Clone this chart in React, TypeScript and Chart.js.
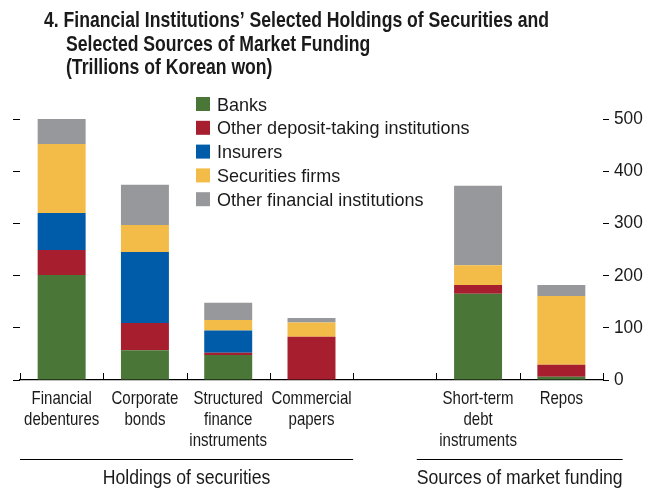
import React, { useEffect, useRef } from "react";
import { Chart, registerables } from "chart.js";

Chart.register(...registerables);

// ---- data ----
const categories: (string | string[])[] = [
  ["Financial", "debentures"],
  ["Corporate", "bonds"],
  ["Structured", "finance", "instruments"],
  ["Commercial", "papers"],
  "",
  ["Short-term", "debt", "instruments"],
  "Repos",
];
const seriesNames = [
  "Banks",
  "Other deposit-taking institutions",
  "Insurers",
  "Securities firms",
  "Other financial institutions",
];
const banks = [201, 57, 48, 0, null, 165, 6];
const otherDepositTaking = [48, 52, 4, 83, null, 17, 23];
const insurers = [71, 136, 43, 0, null, 0, 0];
const securitiesFirms = [132, 52, 20, 27, null, 38, 132];
const otherFinancial = [48, 77, 33, 9, null, 152, 21];
const yTicks = [0, 100, 200, 300, 400, 500];
const groupLabels = ["Holdings of securities", "Sources of market funding"];
const groupSpans = [
  [0, 3],
  [5, 6],
];
const titleLines = [
  "4. Financial Institutions\u2019 Selected Holdings of Securities and",
  "Selected Sources of Market Funding",
  "(Trillions of Korean won)",
];

const seriesValues = [banks, otherDepositTaking, insurers, securitiesFirms, otherFinancial];
const colors = ["#4a7637", "#a71e2f", "#005ca9", "#f3bb47", "#97989b"];

const FONT = "'Liberation Sans', Arial, sans-serif";
const TEXT = "#1a1a1a";

// horizontal condensing per font size (emulates a condensed face)
const SQUEEZE: Record<string, number> = {
  "17.7": 0.85, // category labels
  "18.2": 0.95, // value axis labels
  "18.6": 0.97, // legend
  "21": 0.84, // group labels
};

const squeezePlugin = {
  id: "squeeze",
  beforeDraw(chart: any) {
    const ctx = chart.ctx;
    if (ctx.__squeezed) return;
    const orig = ctx.fillText;
    ctx.fillText = function (text: string, x: number, y: number, maxWidth?: number) {
      const m = /([\d.]+)px/.exec(this.font);
      const f = m ? SQUEEZE[m[1]] : undefined;
      if (f) {
        const w = this.measureText(text).width * f;
        maxWidth = maxWidth !== undefined ? Math.min(maxWidth, w) : w;
      }
      return maxWidth !== undefined
        ? orig.call(this, text, x, y, maxWidth)
        : orig.call(this, text, x, y);
    };
    ctx.__squeezed = true;
  },
};

const overlayPlugin = {
  id: "overlay",
  afterDraw(chart: any) {
    const ctx = chart.ctx;
    const x = chart.scales.x;
    const area = chart.chartArea;
    ctx.save();
    // title
    ctx.font = `bold 22px ${FONT}`;
    ctx.fillStyle = TEXT;
    ctx.textAlign = "left";
    ctx.textBaseline = "alphabetic";
    const tScale = 505 / ctx.measureText(titleLines[0]).width;
    titleLines.forEach((t, i) => {
      const w = ctx.measureText(t).width * tScale;
      ctx.fillText(t, i === 0 ? 44 : 66, 27.3 + i * 23.4, w);
    });
    // category boundary ticks (upward)
    ctx.strokeStyle = "#000";
    ctx.lineWidth = 1;
    for (let i = 0; i <= categories.length; i++) {
      const px = Math.round(x.getPixelForValue(i - 0.5)) + 0.5;
      ctx.beginPath();
      ctx.moveTo(px, area.bottom);
      ctx.lineTo(px, area.bottom - 7);
      ctx.stroke();
    }
    // legend
    ctx.font = `18.6px ${FONT}`;
    ctx.textBaseline = "alphabetic";
    ctx.textAlign = "left";
    chart.data.datasets.forEach((ds: any, i: number) => {
      const y = 97 + i * 23.8;
      ctx.fillStyle = ds.backgroundColor;
      ctx.fillRect(196, y, 14, 14);
      ctx.fillStyle = TEXT;
      ctx.fillText(ds.label, 217, y + 13.6);
    });
    // group labels
    ctx.font = `21px ${FONT}`;
    ctx.textAlign = "center";
    ctx.textBaseline = "alphabetic";
    groupLabels.forEach((lab, gi) => {
      const [a, b] = groupSpans[gi];
      const left = x.getPixelForValue(a - 0.5);
      const right = x.getPixelForValue(b + 0.5);
      const cx = (left + right) / 2;
      const tw = ctx.measureText(lab).width * SQUEEZE["21"];
      const half = Math.max((right - left) / 2, tw / 2);
      ctx.strokeStyle = "#000";
      ctx.lineWidth = 1.2;
      ctx.beginPath();
      ctx.moveTo(cx - half, 459.5);
      ctx.lineTo(cx + half, 459.5);
      ctx.stroke();
      ctx.fillStyle = TEXT;
      ctx.fillText(lab, cx, 483.5);
    });
    ctx.restore();
  },
};

export default function App() {
  const ref = useRef<HTMLCanvasElement | null>(null);
  useEffect(() => {
    if (!ref.current) return;
    const chart = new Chart(ref.current, {
      type: "bar",
      data: {
        labels: categories as any,
        datasets: seriesNames.map((n, i) => ({
          label: n,
          data: seriesValues[i] as any,
          backgroundColor: colors[i],
          borderWidth: 0,
          barPercentage: 0.576,
          categoryPercentage: 1,
          yAxisID: "y",
        })),
      },
      options: {
        animation: false,
        responsive: false,
        maintainAspectRatio: false,
        layout: { padding: { top: 119, left: 0, right: 0, bottom: 0 } },
        plugins: {
          legend: { display: false },
          tooltip: { enabled: false },
          title: { display: false },
        },
        scales: {
          x: {
            stacked: true,
            grid: { display: true, drawOnChartArea: false, drawTicks: false, color: "transparent" },
            border: { display: true, color: "#000", width: 1.2 },
            ticks: {
              font: { family: FONT, size: 17.7, lineHeight: "20.8px" },
              color: TEXT,
              padding: 9,
              maxRotation: 0,
              autoSkip: false,
            },
            afterFit: (s: any) => {
              s.height = 109;
            },
          },
          y: {
            stacked: true,
            position: "left",
            min: 0,
            max: 500,
            afterBuildTicks: (s: any) => {
              s.ticks = yTicks.map((v) => ({ value: v }));
            },
            ticks: { display: false },
            grid: { drawOnChartArea: false, drawTicks: true, tickLength: 7, color: "#000" },
            border: { display: false },
            afterFit: (s: any) => {
              s.width = 20;
            },
          },
          y2: {
            position: "right",
            min: 0,
            max: 500,
            afterBuildTicks: (s: any) => {
              s.ticks = yTicks.map((v) => ({ value: v }));
            },
            ticks: { font: { family: FONT, size: 18.2 }, color: TEXT, padding: 5 },
            grid: { drawOnChartArea: false, drawTicks: true, tickLength: 6, color: "#000" },
            border: { display: false },
            afterFit: (s: any) => {
              s.width = 52;
            },
          },
        },
      },
      plugins: [squeezePlugin, overlayPlugin],
    });
    return () => chart.destroy();
  }, []);

  return (
    <div style={{ position: "fixed", left: 0, top: 0, width: 655, height: 489, background: "#fff" }}>
      <canvas ref={ref} width={655} height={489} style={{ display: "block", width: 655, height: 489 }} />
    </div>
  );
}
